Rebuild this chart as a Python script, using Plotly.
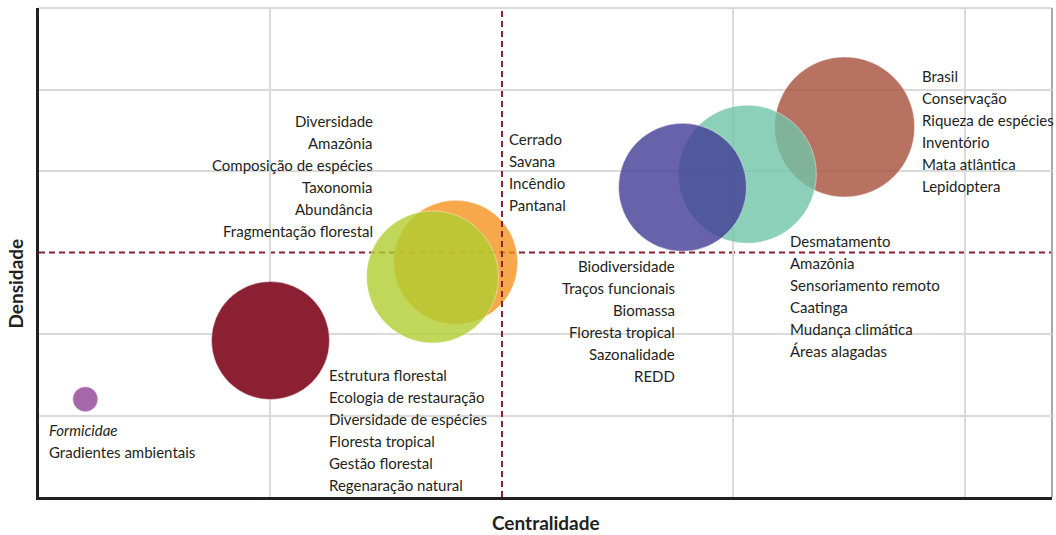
import plotly.graph_objects as go

# Bubble data (axis units = one grid cell)
clusters = ["Formicidae", "Estrutura florestal", "Cerrado", "Diversidade",
            "Brasil", "Desmatamento", "Biodiversidade"]
centralidade = [0.20, 1.00, 1.80, 1.70, 3.48, 3.06, 2.78]
densidade = [1.20, 1.92, 2.88, 2.70, 4.54, 3.96, 3.80]
tamanho = [25, 118, 124, 132, 140, 138, 128]
cores = ["rgba(168,102,170,1)", "rgba(139,32,50,1)", "rgba(244,146,29,0.8)",
         "rgba(176,205,49,0.8)", "rgba(166,79,59,0.8)", "rgba(113,196,169,0.8)",
         "rgba(65,59,149,0.8)"]

# Keyword labels of each cluster
rotulos = {
    "Formicidae": ["<i>Formicidae</i>", "Gradientes ambientais"],
    "Estrutura florestal": ["Estrutura florestal", "Ecologia de restauração",
                            "Diversidade de espécies", "Floresta tropical",
                            "Gestão florestal", "Regenaração natural"],
    "Diversidade": ["Diversidade", "Amazônia", "Composição de espécies",
                    "Taxonomia", "Abundância", "Fragmentação florestal"],
    "Cerrado": ["Cerrado", "Savana", "Incêndio", "Pantanal"],
    "Biodiversidade": ["Biodiversidade", "Traços funcionais", "Biomassa",
                       "Floresta tropical", "Sazonalidade", "REDD"],
    "Desmatamento": ["Desmatamento", "Amazônia", "Sensoriamento remoto",
                     "Caatinga", "Mudança climática", "Áreas alagadas"],
    "Brasil": ["Brasil", "Conservação", "Riqueza de espécies", "Inventório",
               "Mata atlântica", "Lepidoptera"],
}

# where each label block starts (x, y of first line, anchor)
posicoes = {
    "Formicidae": (0.036, 0.82, "left"),
    "Estrutura florestal": (1.244, 1.50, "left"),
    "Diversidade": (1.453, 4.61, "right"),
    "Cerrado": (2.02, 4.39, "left"),
    "Biodiversidade": (2.757, 2.83, "right"),
    "Desmatamento": (3.237, 3.14, "left"),
    "Brasil": (3.806, 5.165, "left"),
}

fig = go.Figure()

fig.add_trace(go.Scatter(
    x=centralidade,
    y=densidade,
    mode="markers",
    marker=dict(size=tamanho, sizemode="diameter", color=cores, opacity=1,
                line=dict(width=0.6, color="rgba(255,255,255,0.7)")),
    hovertext=clusters,
    showlegend=False,
))

annotations = []
for nome, linhas in rotulos.items():
    x0, y0, anchor = posicoes[nome]
    for i, txt in enumerate(linhas):
        annotations.append(dict(
            x=x0, y=y0, xref="x", yref="y", text=txt, showarrow=False,
            xanchor=anchor, yanchor="middle", yshift=-22 * i,
            font=dict(family="Lato", size=15, color="#231F20"),
        ))

annotations.append(dict(
    x=0.5, y=-0.052, xref="paper", yref="paper", text="<b>Centralidade</b>",
    showarrow=False, xanchor="center", yanchor="middle",
    font=dict(family="Lato", size=19, color="#231F20"),
))
annotations.append(dict(
    x=-0.023, y=0.436, xref="paper", yref="paper", text="<b>Densidade</b>",
    showarrow=False, textangle=-90, xanchor="center", yanchor="middle",
    font=dict(family="Lato", size=19, color="#231F20"),
))

shapes = [
    # median lines
    dict(type="line", xref="paper", yref="y", x0=0, x1=1, y0=3, y1=3,
         line=dict(color="#8B2032", width=2, dash="6px,4px"), layer="below"),
    dict(type="line", xref="x", yref="paper", x0=2, x1=2, y0=0, y1=1,
         line=dict(color="#8B2032", width=2, dash="6px,4px"), layer="above"),
    # frame
    dict(type="line", xref="paper", yref="paper", x0=0, x1=1, y0=1, y1=1,
         line=dict(color="#DADADA", width=2), layer="below"),
    dict(type="line", xref="paper", yref="paper", x0=1, x1=1, y0=0, y1=1,
         line=dict(color="#A8A8A8", width=2), layer="below"),
]

fig.update_layout(
    width=1056,
    height=535,
    margin=dict(l=39, r=4, t=8, b=38),
    plot_bgcolor="white",
    paper_bgcolor="white",
    annotations=annotations,
    shapes=shapes,
    xaxis=dict(range=[0, 4.376], tickvals=[1, 3, 4], showticklabels=False,
               ticks="", showgrid=True, gridcolor="#DADADA", gridwidth=2,
               zeroline=False, showline=True, linecolor="#231F20",
               linewidth=3),
    yaxis=dict(range=[0, 6], tickvals=[1, 2, 4, 5], showticklabels=False,
               ticks="", showgrid=True, gridcolor="#DADADA", gridwidth=2,
               zeroline=False, showline=True, linecolor="#231F20",
               linewidth=3),
)

fig.write_html(
    "out.html",
    config={"displayModeBar": False},
    post_script="document.body.style.margin='0';"
                "document.body.style.overflow='hidden';",
)
